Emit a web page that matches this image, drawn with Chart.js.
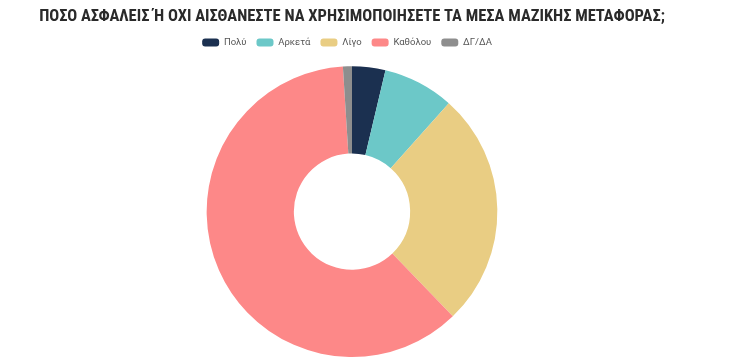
<!DOCTYPE html>
<html>
<head>
<meta charset="utf-8">
<script src="https://cdn.jsdelivr.net/npm/chart.js@4.4.0/dist/chart.umd.min.js"></script>
<style>
  html, body { margin: 0; padding: 0; background: #fff; }
  #wrap { width: 734px; height: 363px; position: relative; }
</style>
</head>
<body>
<div id="wrap"><canvas id="safetyChart"></canvas></div>
<script>
// answers (percent)
const labels = ["Πολύ", "Αρκετά", "Λίγο", "Καθόλου", "ΔΓ/ΔΑ"];
const values = [3.7, 7.9, 26.2, 61.2, 1.0];
const colors = ["#1b3050", "#6cc8c8", "#e9cd83", "#fd8888", "#8e8e8e"];
const chartTitle = "ΠΟΣΟ ΑΣΦΑΛΕΙΣ Ή ΟΧΙ ΑΙΣΘΑΝΕΣΤΕ ΝΑ ΧΡΗΣΙΜΟΠΟΙΗΣΕΤΕ ΤΑ ΜΕΣΑ ΜΑΖΙΚΗΣ ΜΕΤΑΦΟΡΑΣ;";

// extra room under the legend + nudge it a bit left like the original
const legendTweak = {
  id: "legendTweak",
  beforeInit(chart) {
    const fit = chart.legend.fit;
    chart.legend.fit = function () {
      fit.bind(chart.legend)();
      this.height += 9;
    };
  },
  afterLayout(chart) {
    chart.legend.left -= 5;
    chart.legend.right -= 5;
  }
};

const ctx = document.getElementById("safetyChart").getContext("2d");

new Chart(ctx, {
  type: "doughnut",
  data: {
    labels: labels,
    datasets: [{
      data: values,
      backgroundColor: colors,
      borderWidth: 0
    }]
  },
  options: {
    responsive: true,
    maintainAspectRatio: false,
    animation: false,
    cutout: "40%",
    layout: { padding: { left: 0, right: 30, top: 0, bottom: 6 } },
    plugins: {
      title: {
        display: true,
        text: chartTitle,
        color: "#2a2a2a",
        font: { family: "'Roboto Condensed', 'Liberation Sans Narrow', 'DejaVu Sans Condensed', Roboto, sans-serif", size: 16.5, weight: "bold" },
        padding: { top: 6.5, bottom: 1.5 }
      },
      legend: {
        position: "top",
        labels: {
          boxWidth: 17,
          boxHeight: 8,
          useBorderRadius: true,
          borderRadius: 3,
          padding: 10,
          color: "#555",
          font: { family: "Roboto, 'Noto Sans', sans-serif", size: 9.5 }
        }
      },
      tooltip: { enabled: false }
    }
  },
  plugins: [legendTweak]
});
</script>
</body>
</html>
